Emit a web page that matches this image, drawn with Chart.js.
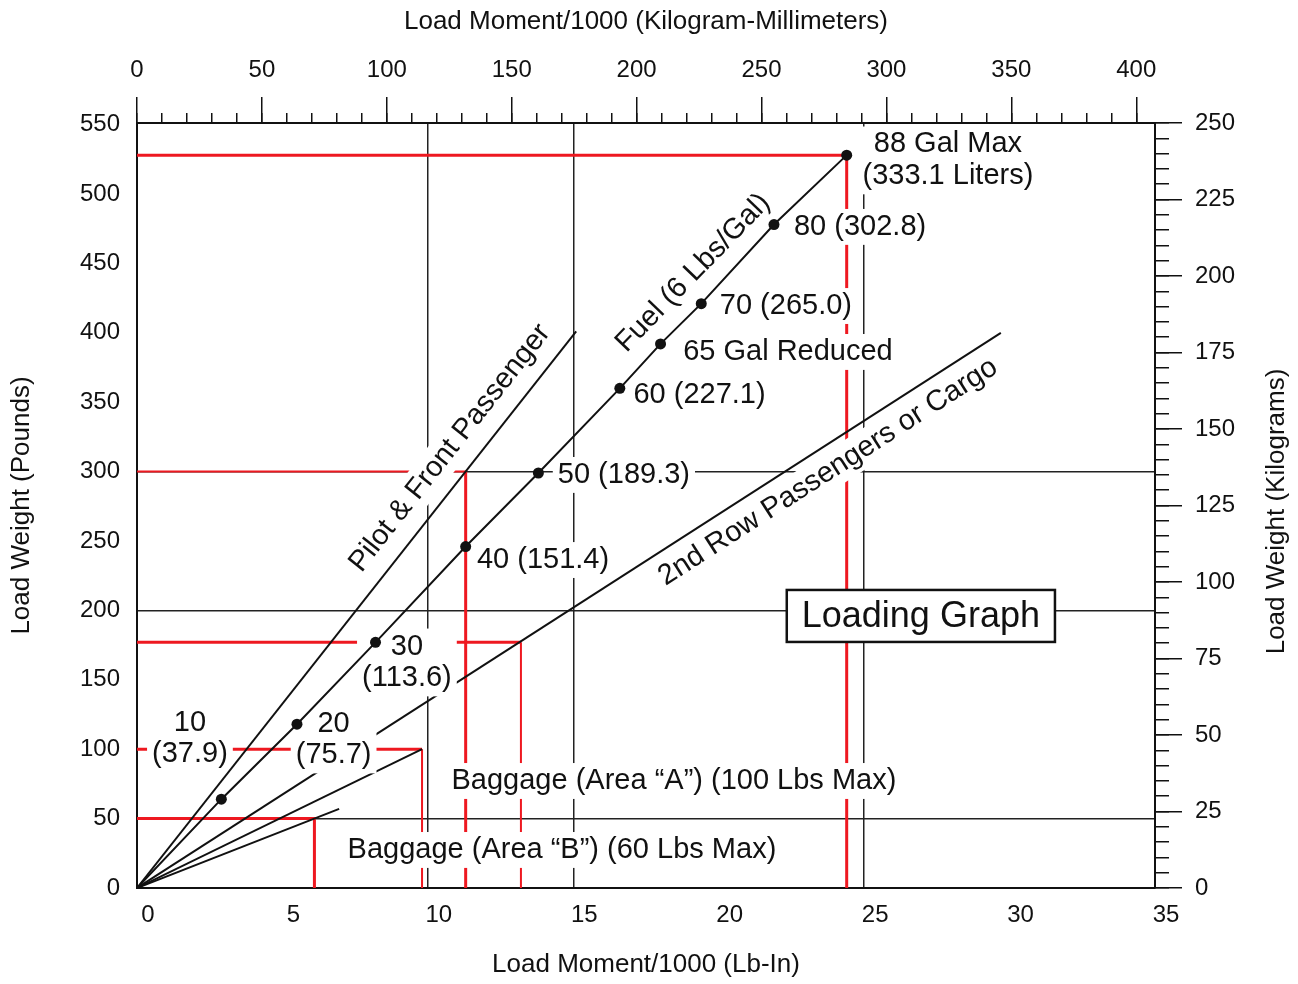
<!DOCTYPE html>
<html>
<head>
<meta charset="utf-8">
<title>Loading Graph</title>
<script src="https://cdn.jsdelivr.net/npm/chart.js@4.4.1/dist/chart.umd.min.js"></script>
<style>
  html, body { margin: 0; padding: 0; background: #fff; }
  #wrap { width: 1298px; height: 984px; position: relative; }
</style>
</head>
<body>
<div id="wrap"><canvas id="loading-chart"></canvas></div>
<script>
"use strict";
// fuel marks, moment/1000 (lb-in) against weight (lbs)
const fuelMoment = [2.9, 5.5, 8.2, 11.3, 13.8, 16.6, 18.0, 19.4, 21.9, 24.4];
const fuelWeight = [64, 118, 177, 246, 299, 360, 392, 421, 478, 528];
const fuelLabels = [["10", "(37.9)"], ["20", "(75.7)"], ["30", "(113.6)"], ["40 (151.4)"], ["50 (189.3)"],
    ["60 (227.1)"], ["65 Gal Reduced"], ["70 (265.0)"], ["80 (302.8)"], ["88 Gal Max", "(333.1 Liters)"]];
const pilotMoment = [0, 15.1];
const pilotWeight = [0, 401];
const rowMoment = [0, 29.7];
const rowWeight = [0, 400];
const bagAMoment = [0, 9.8];
const bagAWeight = [0, 100];
const bagBMoment = [0, 6.95];
const bagBWeight = [0, 57];
// red example readings: across at a weight, then down to the moment
const exampleWeight = [528, 300, 177, 100, 50];
const exampleMoment = [24.4, 11.3, 13.2, 9.8, 6.1];
const gridMoments = [10, 15, 25];
const gridWeights = [50, 200, 300];
const weightTicks = [0, 50, 100, 150, 200, 250, 300, 350, 400, 450, 500, 550];
const lineNames = ["Pilot & Front Passenger", "Fuel (6 Lbs/Gal)", "2nd Row Passengers or Cargo"];
const areaNotes = ["Baggage (Area \u201cA\u201d) (100 Lbs Max)", "Baggage (Area \u201cB\u201d) (60 Lbs Max)"];
const chartTitle = "Loading Graph";
// axis ranges: 250 kg = 551.16 lbs, 35000 lb-in ~ 407 kg-mm on this sheet
const momentMax = 35;
const weightMax = 551.16;
const kgMax = 250;
const kgmmMax = 407.5;

// layout of the notes (chart units), kept apart from the data
const fuelLabelPos = [[1.82, 107.7], [6.76, 107.0], [9.28, 162.5], [13.96, 236.3], [16.74, 297.6],
    [19.34, 355.2], [22.38, 386.2], [22.31, 419.3], [24.86, 476.3], [27.88, 524.2]];
const lineNamePos = [[10.76, 317.0], [19.12, 443.1], [23.76, 299.7]];
const areaNotePos = [[18.46, 77.1], [14.61, 27.4]];
const titlePos = [26.95, 196.0];
const exampleWidths = [[3, 3], [2, 3], [3, 2], [3, 2], [3, 3]];

const FONT = '"Liberation Sans", Arial, Helvetica, sans-serif';
const RED = "rgb(238, 24, 32)";
const INK = "#111";

Chart.defaults.font.family = FONT;
Chart.defaults.color = INK;

function toPoints(xs, ys) {
    return xs.map((x, i) => ({ x: x, y: ys[i] }));
}

function lineSet(label, xs, ys) {
    return {
        label: label,
        data: toPoints(xs, ys),
        showLine: true,
        borderColor: INK,
        borderWidth: 2,
        pointRadius: 0,
    };
}

let datasets = [];
// 0: fuel (drawn last, on top)
datasets.push({
    label: "Fuel",
    data: [{ x: 0, y: 0 }].concat(toPoints(fuelMoment, fuelWeight)),
    showLine: true,
    borderColor: INK,
    borderWidth: 2,
    pointRadius: (c) => c.dataIndex === 0 ? 0 : 5.5,
    pointBackgroundColor: INK,
    pointBorderWidth: 0,
});
datasets.push(lineSet("Pilot", pilotMoment, pilotWeight));        // 1
datasets.push(lineSet("2nd Row", rowMoment, rowWeight));          // 2
datasets.push(lineSet("Baggage A", bagAMoment, bagAWeight));      // 3
datasets.push(lineSet("Baggage B", bagBMoment, bagBWeight));      // 4
exampleWeight.forEach((w, i) => {
    const widths = exampleWidths[i];
    datasets.push({
        label: "Example " + w,
        data: [{ x: 0, y: w }, { x: exampleMoment[i], y: w }, { x: exampleMoment[i], y: 0 }],
        showLine: true,
        borderColor: RED,
        borderWidth: widths[0],
        pointRadius: 0,
        segment: {
            borderWidth: (c) => c.p0DataIndex === 0 ? widths[0] : widths[1],
        },
    });
});

// text block with a white backing that breaks the lines behind it
function textBlock(ctx, lines, px, py, size, padX, padY) {
    ctx.font = `${size}px ${FONT}`;
    const lh = size * 1.1;
    const w = Math.max(...lines.map(t => ctx.measureText(t).width));
    const h = lh * lines.length;
    ctx.fillStyle = "#fff";
    ctx.fillRect(px - w / 2 - padX, py - h / 2 - padY, w + 2 * padX, h + 2 * padY);
    ctx.fillStyle = INK;
    ctx.textAlign = "center";
    ctx.textBaseline = "middle";
    lines.forEach((t, i) => ctx.fillText(t, px, py - h / 2 + lh * (i + 0.5)));
}

function slopeText(ctx, text, px, py, angle, size) {
    ctx.save();
    ctx.translate(px, py);
    ctx.rotate(angle);
    ctx.font = `${size}px ${FONT}`;
    const w = ctx.measureText(text).width;
    ctx.fillStyle = "#fff";
    ctx.fillRect(-w / 2 - 5, -18, w + 10, 36);
    ctx.fillStyle = INK;
    ctx.textAlign = "center";
    ctx.textBaseline = "middle";
    ctx.fillText(text, 0, 0);
    ctx.restore();
}

const notesPlugin = {
    id: "notes",
    afterDatasetDraw(chart, args) {
        if (args.index !== 2) return; // after the 2nd row line, before pilot and fuel
        const ctx = chart.ctx;
        const sx = chart.scales.x;
        const sy = chart.scales.y;
        const px = (v) => sx.getPixelForValue(v);
        const py = (v) => sy.getPixelForValue(v);
        ctx.save();
        fuelLabels.forEach((lines, i) => {
            textBlock(ctx, lines, px(fuelLabelPos[i][0]), py(fuelLabelPos[i][1]), 29, 5, 2);
        });
        areaNotes.forEach((t, i) => {
            textBlock(ctx, [t], px(areaNotePos[i][0]), py(areaNotePos[i][1]), 29, 5, 2);
        });
        // sloped names follow their own lines
        const ends = [
            [pilotMoment[1], pilotWeight[1]],
            [fuelMoment[fuelMoment.length - 1], fuelWeight[fuelWeight.length - 1]],
            [rowMoment[1], rowWeight[1]],
        ];
        lineNames.forEach((t, i) => {
            const ang = Math.atan2(py(ends[i][1]) - py(0), px(ends[i][0]) - px(0));
            slopeText(ctx, t, px(lineNamePos[i][0]), py(lineNamePos[i][1]), ang, 29);
        });
        // boxed title
        ctx.font = `36px ${FONT}`;
        const tw = ctx.measureText(chartTitle).width;
        const cx = px(titlePos[0]);
        const cy = py(titlePos[1]);
        const bw = tw + 30;
        const bh = 52;
        ctx.fillStyle = "#fff";
        ctx.fillRect(cx - bw / 2, cy - bh / 2, bw, bh);
        ctx.strokeStyle = INK;
        ctx.lineWidth = 2.5;
        ctx.strokeRect(cx - bw / 2, cy - bh / 2, bw, bh);
        ctx.fillStyle = INK;
        ctx.textAlign = "center";
        ctx.textBaseline = "middle";
        ctx.fillText(chartTitle, cx, cy + 1);
        ctx.restore();
    },
    afterDraw(chart) {
        // right title reads bottom to top, like the left one
        const ctx = chart.ctx;
        const area = chart.chartArea;
        ctx.save();
        ctx.translate(chart.width - 21, (area.top + area.bottom) / 2 + 6);
        ctx.rotate(-Math.PI / 2);
        ctx.font = `26px ${FONT}`;
        ctx.fillStyle = INK;
        ctx.textAlign = "center";
        ctx.textBaseline = "middle";
        ctx.fillText("Load Weight (Kilograms)", 0, 0);
        ctx.restore();
    },
};

const tickFont = { size: 24 };
const titleFont = { size: 26 };

function createChart() {
    const ctx = document.getElementById("loading-chart");
    return new Chart(ctx, {
        type: "scatter",
        data: { datasets },
        options: {
            responsive: true,
            maintainAspectRatio: false,
            animation: false,
            layout: { padding: 0 },
            plugins: {
                legend: { display: false },
                tooltip: { enabled: false },
            },
            scales: {
                x: {
                    type: "linear",
                    position: "bottom",
                    min: 0,
                    max: momentMax,
                    ticks: { stepSize: 5, includeBounds: false, padding: 13, labelOffset: 11, color: INK, font: tickFont, maxRotation: 0 },
                    grid: {
                        drawTicks: false,
                        color: (c) => c.tick && gridMoments.includes(c.tick.value) ? "#222" : "rgba(0,0,0,0)",
                        lineWidth: 1.5,
                    },
                    border: { display: true, color: INK, width: 2 },
                    title: { display: true, text: "Load Moment/1000 (Lb-In)", color: INK, font: titleFont, padding: { top: 0, bottom: 4 } },
                    afterFit: (s) => { s.height = 96; },
                },
                y: {
                    type: "linear",
                    position: "left",
                    min: 0,
                    max: weightMax,
                    ticks: { padding: 17, color: INK, font: tickFont },
                    afterBuildTicks: (s) => { s.ticks = weightTicks.map(v => ({ value: v })); },
                    grid: {
                        drawTicks: false,
                        color: (c) => c.tick && gridWeights.includes(c.tick.value) ? "#222" : "rgba(0,0,0,0)",
                        lineWidth: 1.5,
                    },
                    border: { display: true, color: INK, width: 2 },
                    title: { display: true, text: "Load Weight (Pounds)", color: INK, font: titleFont, padding: { top: 6, bottom: 0 } },
                    afterFit: (s) => { s.width = 137; },
                },
                xTop: {
                    type: "linear",
                    position: "top",
                    weight: 2,
                    min: 0,
                    max: kgmmMax,
                    ticks: { stepSize: 50, includeBounds: false, padding: 12, color: INK, font: tickFont, maxRotation: 0 },
                    grid: { drawOnChartArea: false, tickLength: 26, color: INK, lineWidth: 1.5 },
                    border: { display: false },
                    title: { display: true, text: "Load Moment/1000 (Kilogram-Millimeters)", color: INK, font: titleFont, padding: { top: 6, bottom: 0 } },
                    afterFit: (s) => { s.height = 123; },
                },
                xTopMinor: {
                    type: "linear",
                    position: "top",
                    weight: 1,
                    min: 0,
                    max: kgmmMax,
                    ticks: { stepSize: 10, includeBounds: false, maxTicksLimit: 1000, display: false },
                    grid: { drawOnChartArea: false, tickLength: 10, color: INK, lineWidth: 1.5 },
                    border: { display: true, color: INK, width: 2 },
                    afterFit: (s) => { s.height = 0; },
                },
                yKg: {
                    type: "linear",
                    position: "right",
                    weight: 2,
                    min: 0,
                    max: kgMax,
                    ticks: { stepSize: 25, includeBounds: false, padding: 13, color: INK, font: tickFont },
                    grid: { drawOnChartArea: false, tickLength: 27, color: INK, lineWidth: 1.5 },
                    border: { display: false },
                    afterFit: (s) => { s.width = 143; },
                },
                yKgMinor: {
                    type: "linear",
                    position: "right",
                    weight: 1,
                    min: 0,
                    max: kgMax,
                    ticks: { stepSize: 5, includeBounds: false, maxTicksLimit: 1000, display: false },
                    grid: { drawOnChartArea: false, tickLength: 14, color: INK, lineWidth: 1.5 },
                    border: { display: true, color: INK, width: 2 },
                    afterFit: (s) => { s.width = 0; },
                },
            },
        },
        plugins: [notesPlugin],
    });
}

const loadingChart = createChart();
</script>
</body>
</html>
